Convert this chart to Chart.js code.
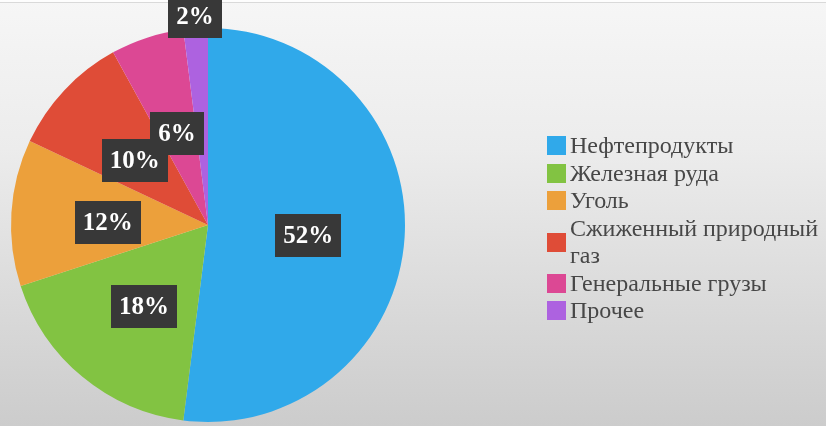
<!DOCTYPE html>
<html>
<head>
<meta charset="utf-8">
<script src="https://cdn.jsdelivr.net/npm/chart.js@4/dist/chart.umd.min.js"></script>
<style>
  html, body { margin: 0; padding: 0; }
  body {
    width: 826px; height: 426px; overflow: hidden; position: relative;
    background: linear-gradient(to bottom, #f6f6f6 0%, #ececec 35%, #d8d8d8 75%, #cccccc 100%);
  }
  #topline { position: absolute; left: 0; top: 0; width: 826px; height: 2px; background: #fdfdfd; border-bottom: 1px solid #d9d9d9; }
  #wrap { position: absolute; left: 0; top: 0; width: 826px; height: 426px; }
  #legend {
    position: absolute; left: 547px; top: 132px; width: 279px;
    font-family: "Liberation Serif", "Times New Roman", serif; font-size: 24px;
    color: #474747; line-height: 27.5px;
  }
  .item { display: flex; align-items: center; }
  .sw { width: 19px; height: 19px; flex: 0 0 19px; margin-right: 4px; }
</style>
</head>
<body>
<div id="topline"></div>
<div id="wrap"><canvas id="pie" width="826" height="426"></canvas></div>
<div id="legend"></div>
<script>
  const categories = ['Нефтепродукты', 'Железная руда', 'Уголь', 'Сжиженный природный газ', 'Генеральные грузы', 'Прочее'];
  const shares = [52, 18, 12, 10, 6, 2];
  const colors = ['#30a9ea', '#82c342', '#eca03b', '#df4c37', '#dc4894', '#ad62e0'];

  // dark boxed percentage labels
  const boxLabels = {
    id: 'boxLabels',
    afterDatasetsDraw(chart) {
      const ctx = chart.ctx;
      const meta = chart.getDatasetMeta(0);
      ctx.save();
      ctx.font = 'bold 25px "Liberation Serif", serif';
      ctx.textAlign = 'center';
      ctx.textBaseline = 'middle';
      meta.data.forEach((arc, i) => {
        const p = arc.getProps(['x', 'y', 'startAngle', 'endAngle', 'outerRadius'], true);
        const mid = (p.startAngle + p.endAngle) / 2;
        const outside = shares[i] < 5;
        const r = outside ? p.outerRadius + 12 : p.outerRadius * 0.51;
        const cx = p.x + Math.cos(mid) * r;
        const cy = p.y + Math.sin(mid) * r + (outside ? 0 : 4);
        const text = shares[i] + '%';
        const w = ctx.measureText(text).width + 16;
        const h = 43;
        ctx.fillStyle = '#383838';
        ctx.fillRect(Math.round(cx - w / 2), Math.round(cy - h / 2), Math.round(w), h);
        ctx.fillStyle = '#ffffff';
        ctx.fillText(text, cx, cy + 1);
      });
      ctx.restore();
    }
  };

  new Chart(document.getElementById('pie'), {
    type: 'pie',
    data: {
      labels: categories,
      datasets: [{
        data: shares,
        backgroundColor: colors,
        borderWidth: 0
      }]
    },
    options: {
      responsive: false,
      animation: false,
      layout: { padding: { left: 11, top: 28, right: 421, bottom: 4 } },
      plugins: {
        legend: { display: false },
        tooltip: { enabled: false }
      }
    },
    plugins: [boxLabels]
  });

  const legend = document.getElementById('legend');
  categories.forEach((name, i) => {
    const row = document.createElement('div');
    row.className = 'item';
    const sw = document.createElement('span');
    sw.className = 'sw';
    sw.style.background = colors[i];
    const txt = document.createElement('span');
    txt.textContent = name;
    row.appendChild(sw);
    row.appendChild(txt);
    legend.appendChild(row);
  });
</script>
</body>
</html>
